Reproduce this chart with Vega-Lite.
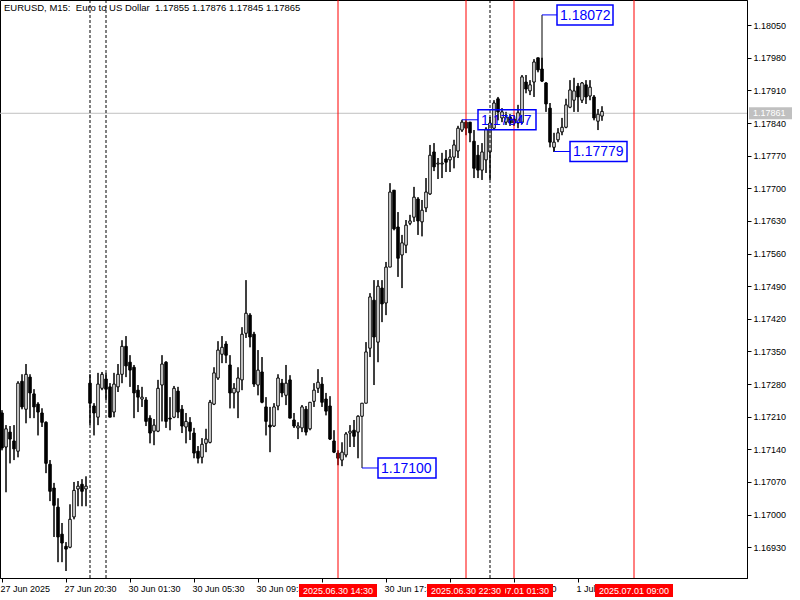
{
"$schema": "https://vega.github.io/schema/vega-lite/v6.json",
"width": 747, "height": 578, "autosize": "none", "padding": {"left": 0, "top": 0, "right": 53, "bottom": 22},
"background": "white",
"config": {"font": "Liberation Sans", "view": {"stroke": "black", "strokeWidth": 1},
  "scale": {"continuousPadding": 0},
  "axis": {"tickColor":"black","domainColor":"black","labelColor":"black","labelFontSize":9,"labelFont":"Liberation Sans","grid":false,"labelOverlap":false,"labelFlush":false,"tickSize":4}},
"title": {"text": "EURUSD, M15:\u00a0 Euro to US Dollar\u00a0 1.17855 1.17876 1.17845 1.17865", "anchor": "start", "frame": "group", "orient": "top", "offset": -13, "dx": 4, "fontSize": 9.5, "fontWeight": "normal", "font": "Liberation Sans", "color": "black", "baseline": "top"},
"datasets": {
"candles": [
{"i":0,"o":1.17218,"h":1.17224,"l":1.17138,"c":1.17143},
{"i":1,"o":1.17145,"h":1.17192,"l":1.17048,"c":1.17184},
{"i":2,"o":1.17177,"h":1.17190,"l":1.17110,"c":1.17162},
{"i":3,"o":1.17158,"h":1.17192,"l":1.17117,"c":1.17141},
{"i":4,"o":1.17136,"h":1.17286,"l":1.17123,"c":1.17282},
{"i":5,"o":1.17286,"h":1.17301,"l":1.17226,"c":1.17231},
{"i":6,"o":1.17226,"h":1.17323,"l":1.17196,"c":1.17301},
{"i":7,"o":1.17295,"h":1.17301,"l":1.17207,"c":1.17261},
{"i":8,"o":1.17259,"h":1.17269,"l":1.17207,"c":1.17231},
{"i":9,"o":1.17237,"h":1.17241,"l":1.17170,"c":1.17220},
{"i":10,"o":1.17218,"h":1.17228,"l":1.17188,"c":1.17198},
{"i":11,"o":1.17198,"h":1.17200,"l":1.17089,"c":1.17110},
{"i":12,"o":1.17108,"h":1.17117,"l":1.17029,"c":1.17050},
{"i":13,"o":1.17057,"h":1.17068,"l":1.16952,"c":1.17020},
{"i":14,"o":1.17016,"h":1.17035,"l":1.16898,"c":1.16952},
{"i":15,"o":1.16958,"h":1.16982,"l":1.16898,"c":1.16939},
{"i":16,"o":1.16932,"h":1.16941,"l":1.16879,"c":1.16926},
{"i":17,"o":1.16930,"h":1.17022,"l":1.16928,"c":1.16990},
{"i":18,"o":1.16995,"h":1.17070,"l":1.16990,"c":1.17052},
{"i":19,"o":1.17055,"h":1.17072,"l":1.17018,"c":1.17061},
{"i":20,"o":1.17065,"h":1.17076,"l":1.17018,"c":1.17050},
{"i":21,"o":1.17055,"h":1.17082,"l":1.17018,"c":1.17061},
{"i":22,"o":1.17282,"h":1.17301,"l":1.17192,"c":1.17239},
{"i":23,"o":1.17233,"h":1.17239,"l":1.17170,"c":1.17218},
{"i":24,"o":1.17209,"h":1.17304,"l":1.17192,"c":1.17280},
{"i":25,"o":1.17271,"h":1.17306,"l":1.17267,"c":1.17301},
{"i":26,"o":1.17291,"h":1.17304,"l":1.17246,"c":1.17269},
{"i":27,"o":1.17274,"h":1.17282,"l":1.17209,"c":1.17209},
{"i":28,"o":1.17220,"h":1.17304,"l":1.17209,"c":1.17280},
{"i":29,"o":1.17274,"h":1.17323,"l":1.17263,"c":1.17301},
{"i":30,"o":1.17301,"h":1.17374,"l":1.17282,"c":1.17361},
{"i":31,"o":1.17361,"h":1.17383,"l":1.17295,"c":1.17319},
{"i":32,"o":1.17327,"h":1.17342,"l":1.17274,"c":1.17310},
{"i":33,"o":1.17316,"h":1.17321,"l":1.17207,"c":1.17261},
{"i":34,"o":1.17267,"h":1.17278,"l":1.17220,"c":1.17252},
{"i":35,"o":1.17248,"h":1.17274,"l":1.17231,"c":1.17252},
{"i":36,"o":1.17246,"h":1.17252,"l":1.17190,"c":1.17200},
{"i":37,"o":1.17207,"h":1.17213,"l":1.17153,"c":1.17175},
{"i":38,"o":1.17179,"h":1.17205,"l":1.17149,"c":1.17192},
{"i":39,"o":1.17179,"h":1.17289,"l":1.17177,"c":1.17271},
{"i":40,"o":1.17278,"h":1.17342,"l":1.17200,"c":1.17323},
{"i":41,"o":1.17327,"h":1.17329,"l":1.17186,"c":1.17200},
{"i":42,"o":1.17207,"h":1.17252,"l":1.17181,"c":1.17205},
{"i":43,"o":1.17209,"h":1.17276,"l":1.17207,"c":1.17271},
{"i":44,"o":1.17265,"h":1.17274,"l":1.17207,"c":1.17220},
{"i":45,"o":1.17226,"h":1.17235,"l":1.17175,"c":1.17190},
{"i":46,"o":1.17188,"h":1.17218,"l":1.17153,"c":1.17200},
{"i":47,"o":1.17198,"h":1.17209,"l":1.17160,"c":1.17179},
{"i":48,"o":1.17175,"h":1.17186,"l":1.17121,"c":1.17132},
{"i":49,"o":1.17136,"h":1.17147,"l":1.17110,"c":1.17121},
{"i":50,"o":1.17123,"h":1.17164,"l":1.17110,"c":1.17151},
{"i":51,"o":1.17153,"h":1.17184,"l":1.17134,"c":1.17162},
{"i":52,"o":1.17155,"h":1.17246,"l":1.17153,"c":1.17241},
{"i":53,"o":1.17237,"h":1.17316,"l":1.17235,"c":1.17304},
{"i":54,"o":1.17293,"h":1.17372,"l":1.17289,"c":1.17353},
{"i":55,"o":1.17344,"h":1.17383,"l":1.17325,"c":1.17359},
{"i":56,"o":1.17366,"h":1.17372,"l":1.17325,"c":1.17342},
{"i":57,"o":1.17321,"h":1.17342,"l":1.17228,"c":1.17261},
{"i":58,"o":1.17261,"h":1.17282,"l":1.17228,"c":1.17271},
{"i":59,"o":1.17263,"h":1.17316,"l":1.17207,"c":1.17293},
{"i":60,"o":1.17289,"h":1.17402,"l":1.17267,"c":1.17387},
{"i":61,"o":1.17389,"h":1.17503,"l":1.17379,"c":1.17432},
{"i":62,"o":1.17428,"h":1.17432,"l":1.17359,"c":1.17381},
{"i":63,"o":1.17387,"h":1.17392,"l":1.17274,"c":1.17280},
{"i":64,"o":1.17278,"h":1.17353,"l":1.17256,"c":1.17310},
{"i":65,"o":1.17306,"h":1.17338,"l":1.17239,"c":1.17241},
{"i":66,"o":1.17231,"h":1.17252,"l":1.17170,"c":1.17200},
{"i":67,"o":1.17192,"h":1.17231,"l":1.17134,"c":1.17188},
{"i":68,"o":1.17190,"h":1.17239,"l":1.17188,"c":1.17231},
{"i":69,"o":1.17233,"h":1.17301,"l":1.17224,"c":1.17293},
{"i":70,"o":1.17282,"h":1.17291,"l":1.17252,"c":1.17261},
{"i":71,"o":1.17256,"h":1.17321,"l":1.17235,"c":1.17282},
{"i":72,"o":1.17289,"h":1.17299,"l":1.17207,"c":1.17207},
{"i":73,"o":1.17203,"h":1.17218,"l":1.17186,"c":1.17190},
{"i":74,"o":1.17186,"h":1.17198,"l":1.17162,"c":1.17190},
{"i":75,"o":1.17186,"h":1.17235,"l":1.17177,"c":1.17231},
{"i":76,"o":1.17226,"h":1.17233,"l":1.17170,"c":1.17177},
{"i":77,"o":1.17184,"h":1.17241,"l":1.17181,"c":1.17241},
{"i":78,"o":1.17243,"h":1.17282,"l":1.17231,"c":1.17267},
{"i":79,"o":1.17271,"h":1.17312,"l":1.17261,"c":1.17284},
{"i":80,"o":1.17280,"h":1.17295,"l":1.17231,"c":1.17241},
{"i":81,"o":1.17248,"h":1.17261,"l":1.17213,"c":1.17222},
{"i":82,"o":1.17233,"h":1.17254,"l":1.17160,"c":1.17162},
{"i":83,"o":1.17158,"h":1.17181,"l":1.17132,"c":1.17134},
{"i":84,"o":1.17132,"h":1.17138,"l":1.17106,"c":1.17121},
{"i":85,"o":1.17117,"h":1.17155,"l":1.17104,"c":1.17134},
{"i":86,"o":1.17128,"h":1.17177,"l":1.17123,"c":1.17173},
{"i":87,"o":1.17175,"h":1.17192,"l":1.17145,"c":1.17179},
{"i":88,"o":1.17181,"h":1.17203,"l":1.17145,"c":1.17168},
{"i":89,"o":1.17177,"h":1.17213,"l":1.17121,"c":1.17211},
{"i":90,"o":1.17211,"h":1.17239,"l":1.17211,"c":1.17239},
{"i":91,"o":1.17239,"h":1.17370,"l":1.17239,"c":1.17349},
{"i":92,"o":1.17357,"h":1.17475,"l":1.17338,"c":1.17467},
{"i":93,"o":1.17460,"h":1.17503,"l":1.17278,"c":1.17381},
{"i":94,"o":1.17370,"h":1.17503,"l":1.17327,"c":1.17490},
{"i":95,"o":1.17486,"h":1.17503,"l":1.17413,"c":1.17452},
{"i":96,"o":1.17454,"h":1.17542,"l":1.17428,"c":1.17531},
{"i":97,"o":1.17531,"h":1.17711,"l":1.17531,"c":1.17692},
{"i":98,"o":1.17696,"h":1.17696,"l":1.17610,"c":1.17613},
{"i":99,"o":1.17617,"h":1.17649,"l":1.17510,"c":1.17550},
{"i":100,"o":1.17557,"h":1.17600,"l":1.17486,"c":1.17583},
{"i":101,"o":1.17578,"h":1.17632,"l":1.17561,"c":1.17621},
{"i":102,"o":1.17625,"h":1.17643,"l":1.17621,"c":1.17630},
{"i":103,"o":1.17638,"h":1.17703,"l":1.17628,"c":1.17681},
{"i":104,"o":1.17677,"h":1.17681,"l":1.17600,"c":1.17630},
{"i":105,"o":1.17628,"h":1.17675,"l":1.17597,"c":1.17653},
{"i":106,"o":1.17658,"h":1.17722,"l":1.17649,"c":1.17692},
{"i":107,"o":1.17688,"h":1.17793,"l":1.17686,"c":1.17771},
{"i":108,"o":1.17778,"h":1.17797,"l":1.17737,"c":1.17746},
{"i":109,"o":1.17752,"h":1.17765,"l":1.17720,"c":1.17754},
{"i":110,"o":1.17752,"h":1.17776,"l":1.17722,"c":1.17754},
{"i":111,"o":1.17763,"h":1.17782,"l":1.17735,"c":1.17756},
{"i":112,"o":1.17761,"h":1.17784,"l":1.17735,"c":1.17767},
{"i":113,"o":1.17767,"h":1.17804,"l":1.17743,"c":1.17793},
{"i":114,"o":1.17780,"h":1.17834,"l":1.17765,"c":1.17829},
{"i":115,"o":1.17825,"h":1.17847,"l":1.17821,"c":1.17842},
{"i":116,"o":1.17842,"h":1.17846,"l":1.17814,"c":1.17829},
{"i":117,"o":1.17842,"h":1.17842,"l":1.17799,"c":1.17819},
{"i":118,"o":1.17801,"h":1.17825,"l":1.17722,"c":1.17743},
{"i":119,"o":1.17771,"h":1.17793,"l":1.17722,"c":1.17739},
{"i":120,"o":1.17739,"h":1.17797,"l":1.17718,"c":1.17778},
{"i":121,"o":1.17761,"h":1.17831,"l":1.17733,"c":1.17827},
{"i":122,"o":1.17778,"h":1.17853,"l":1.17718,"c":1.17840},
{"i":123,"o":1.17829,"h":1.17889,"l":1.17825,"c":1.17883},
{"i":124,"o":1.17892,"h":1.17896,"l":1.17846,"c":1.17864},
{"i":125,"o":1.17851,"h":1.17872,"l":1.17842,"c":1.17864},
{"i":126,"o":1.17842,"h":1.17864,"l":1.17836,"c":1.17853},
{"i":127,"o":1.17853,"h":1.17859,"l":1.17834,"c":1.17840},
{"i":128,"o":1.17849,"h":1.17857,"l":1.17834,"c":1.17840},
{"i":129,"o":1.17840,"h":1.17879,"l":1.17829,"c":1.17862},
{"i":130,"o":1.17842,"h":1.17943,"l":1.17838,"c":1.17939},
{"i":131,"o":1.17928,"h":1.17943,"l":1.17904,"c":1.17913},
{"i":132,"o":1.17909,"h":1.17932,"l":1.17900,"c":1.17922},
{"i":133,"o":1.17928,"h":1.17977,"l":1.17896,"c":1.17971},
{"i":134,"o":1.17980,"h":1.17980,"l":1.17949,"c":1.17954},
{"i":135,"o":1.17956,"h":1.17980,"l":1.17928,"c":1.17930},
{"i":136,"o":1.17926,"h":1.17928,"l":1.17864,"c":1.17881},
{"i":137,"o":1.17872,"h":1.17883,"l":1.17788,"c":1.17799},
{"i":138,"o":1.17788,"h":1.17819,"l":1.17778,"c":1.17799},
{"i":139,"o":1.17804,"h":1.17829,"l":1.17799,"c":1.17819},
{"i":140,"o":1.17821,"h":1.17851,"l":1.17814,"c":1.17831},
{"i":141,"o":1.17831,"h":1.17892,"l":1.17829,"c":1.17879},
{"i":142,"o":1.17874,"h":1.17932,"l":1.17872,"c":1.17911},
{"i":143,"o":1.17889,"h":1.17937,"l":1.17864,"c":1.17909},
{"i":144,"o":1.17919,"h":1.17926,"l":1.17864,"c":1.17896},
{"i":145,"o":1.17889,"h":1.17928,"l":1.17883,"c":1.17926},
{"i":146,"o":1.17922,"h":1.17932,"l":1.17881,"c":1.17896},
{"i":147,"o":1.17898,"h":1.17932,"l":1.17889,"c":1.17917},
{"i":148,"o":1.17896,"h":1.17900,"l":1.17846,"c":1.17851},
{"i":149,"o":1.17844,"h":1.17870,"l":1.17825,"c":1.17859},
{"i":150,"o":1.17855,"h":1.17876,"l":1.17845,"c":1.17865}
],
"redlines": [
{"i":84,"t":"2025.06.30 14:30"},
{"i":116,"t":"2025.06.30 22:30"},
{"i":128,"t":"2025.07.01 01:30"},
{"i":158,"t":"2025.07.01 09:00"}
],
"dashlines": [{"i":22},{"i":26},{"i":122}],
"plabels": [
{"i":135,"anchor":1.17956,"price":1.18072,"b0":138.75,"b1":152.75,"text":"1.18072"},
{"i":115,"anchor":1.17847,"price":1.17847,"b0":119,"b1":133.5,"text":"1.17847"},
{"i":138,"anchor":1.17788,"price":1.17779,"b0":142,"b1":156.25,"text":"1.17779"},
{"i":90,"anchor":1.17211,"price":1.17100,"b0":94,"b1":108.5,"text":"1.17100"}
],
"bid": [{"p":1.17861,"text":"1.17861"}]
},
"layer": [
{"data":{"name":"candles"},"mark":{"type":"rule","color":"black","strokeWidth":1},
 "encoding":{
  "x":{"field":"i","type":"quantitative","title":null,
   "scale":{"domain":[-0.5,186.25],"nice":false,"zero":false,"padding":0},
   "axis":{"orient":"bottom","values":[0,16,32,48,64,80,96,112,128,144],"tickCount":20,
     "labelExpr":"['27 Jun 2025','27 Jun 20:30','30 Jun 01:30','30 Jun 05:30','30 Jun 09:30','30 Jun 13:30','30 Jun 17:30','30 Jun 21:30','1 Jul 01:30','1 Jul 05:30'][round(datum.value/16)]",
     "labelAlign":"left","labelBaseline":"top","labelPadding":2,"labelBound":false,"labelOffset":-2,"labelOverlap":false,"labelFlush":false}},
  "y":{"field":"l","type":"quantitative","title":null,
   "scale":{"domain":[1.16864,1.18104],"nice":false,"zero":false,"padding":0},
   "axis":{"orient":"right","values":[1.1693,1.17,1.1707,1.1714,1.1721,1.1728,1.1735,1.1742,1.1749,1.1756,1.1763,1.177,1.1777,1.1784,1.1791,1.1798,1.1805],"tickCount":30,
     "format":".5f","labelPadding":2,"labelOverlap":false,"labelSeparation":0,"labelFlush":false,"labelBound":false}},
  "y2":{"field":"h"}}},
{"data":{"name":"bid"},"mark":{"type":"rule","color":"#c0c0c0","strokeWidth":1},
 "encoding":{"y":{"field":"p","type":"quantitative","title":null}}},
{"data":{"name":"candles"},"mark":{"type":"rule","color":"black","strokeWidth":1},
 "encoding":{"x":{"field":"i","type":"quantitative","title":null},"y":{"field":"l","type":"quantitative","title":null},"y2":{"field":"h"}}},
{"data":{"name":"candles"},"mark":{"type":"bar","size":2.5,"stroke":"black","strokeWidth":1},
 "encoding":{
  "x":{"field":"i","type":"quantitative","title":null},
  "y":{"field":"o","type":"quantitative","title":null},
  "y2":{"field":"c"},
  "fill":{"condition":{"test":"datum.c >= datum.o","value":"white"},"value":"black"}}},
{"data":{"name":"dashlines"},"mark":{"type":"rule","color":"black","strokeWidth":1,"strokeDash":[3,2]},
 "encoding":{"x":{"field":"i","type":"quantitative","title":null}}},
{"data":{"name":"redlines"},"mark":{"type":"rule","color":"#ff0000","strokeWidth":1},
 "encoding":{"x":{"field":"i","type":"quantitative","title":null}}},
{"data":{"name":"plabels"},"mark":{"type":"rule","color":"black","strokeWidth":1},
 "encoding":{"x":{"field":"i","type":"quantitative","title":null},"y":{"field":"price","type":"quantitative","title":null},"y2":{"field":"anchor"}}},
{"data":{"name":"plabels"},"mark":{"type":"rule","color":"#0000ff","strokeWidth":1},
 "encoding":{"x":{"field":"i","type":"quantitative","title":null},"x2":{"field":"b0"},"y":{"field":"price","type":"quantitative","title":null}}},
{"data":{"name":"plabels"},"mark":{"type":"bar","size":20,"fill":"transparent","stroke":"#0000ff","strokeWidth":1.5,"orient":"horizontal"},
 "encoding":{"x":{"field":"b0","type":"quantitative","title":null},"x2":{"field":"b1"},"y":{"field":"price","type":"quantitative","title":null}}},
{"data":{"name":"plabels"},"mark":{"type":"text","align":"left","baseline":"middle","dx":3,"dy":1,"fontSize":14,"font":"Liberation Sans","color":"#0000ff"},
 "encoding":{"x":{"field":"b0","type":"quantitative","title":null},"y":{"field":"price","type":"quantitative","title":null},"text":{"field":"text"}}},
{"data":{"name":"redlines"},"transform":[{"filter":"datum.i == 128"}],
 "mark":{"type":"rect","width":78,"y":{"expr":"height+6"},"y2":{"expr":"height+19"},"color":"#ff0000"},
 "encoding":{"x":{"field":"i","type":"quantitative","title":null}}},
{"data":{"name":"redlines"},"transform":[{"filter":"datum.i == 128"}],
 "mark":{"type":"text","y":{"expr":"height+13"},"align":"center","baseline":"middle","fontSize":9,"font":"Liberation Sans","color":"white"},
 "encoding":{"x":{"field":"i","type":"quantitative","title":null},"text":{"field":"t"}}},
{"data":{"name":"redlines"},"transform":[{"filter":"datum.i != 128"}],
 "mark":{"type":"rect","width":78,"y":{"expr":"height+6"},"y2":{"expr":"height+19"},"color":"#ff0000"},
 "encoding":{"x":{"field":"i","type":"quantitative","title":null}}},
{"data":{"name":"redlines"},"transform":[{"filter":"datum.i != 128"}],
 "mark":{"type":"text","y":{"expr":"height+13"},"align":"center","baseline":"middle","fontSize":9,"font":"Liberation Sans","color":"white"},
 "encoding":{"x":{"field":"i","type":"quantitative","title":null},"text":{"field":"t"}}},
{"data":{"name":"bid"},
 "mark":{"type":"rect","x":{"expr":"width+2"},"x2":{"expr":"width+45"},"height":12,"color":"#c0c0c0"},
 "encoding":{"y":{"field":"p","type":"quantitative","title":null}}},
{"data":{"name":"bid"},
 "mark":{"type":"text","x":{"expr":"width+6"},"align":"left","baseline":"middle","fontSize":9,"font":"Liberation Sans","color":"white"},
 "encoding":{"y":{"field":"p","type":"quantitative","title":null},"text":{"field":"text"}}}
]
}
